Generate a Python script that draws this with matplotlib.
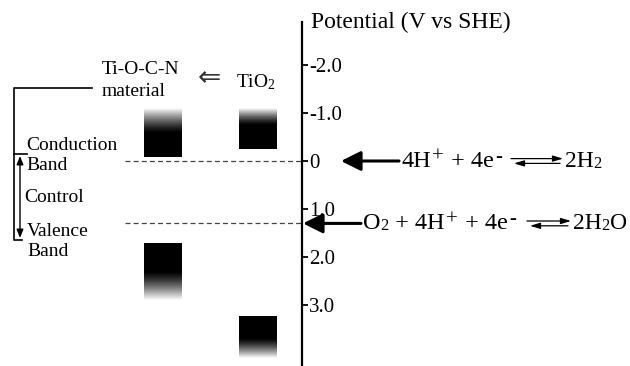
import numpy as np
import matplotlib
matplotlib.use("Agg")
import matplotlib.pyplot as plt

plt.rcParams['font.family'] = ['Liberation Serif', 'DejaVu Sans']
plt.rcParams['mathtext.fontset'] = 'custom'
plt.rcParams['mathtext.rm'] = 'Liberation Serif'
plt.rcParams['mathtext.it'] = 'Liberation Serif:italic'
plt.rcParams['mathtext.bf'] = 'Liberation Serif:bold'

# ---- data (potential, V vs SHE) ----
materials = ["Ti-O-C-N", "TiO2"]
band_x = [163, 258]                 # horizontal placement of band columns
cb_edge = [-0.08, -0.25]            # conduction band edge
cb_solid_end = [-0.58, -0.75]       # end of solid part
cb_fade_end = [-1.10, -1.10]        # gradient fades to white
vb_edge = [1.71, 3.23]              # valence band edge
vb_solid_end = [2.31, 3.69]
vb_fade_end = [2.90, 4.10]
tick_values = [-2.0, -1.0, 0.0, 1.0, 2.0, 3.0]
tick_labels = ["-2.0", "-1.0", "0", "1.0", "2.0", "3.0"]
redox_potentials = [0.0, 1.3]
# equation pieces: (text, kind) with kind n=normal, sup=superscript, sub=subscript
redox_reactants = [
    [("4H", "n"), ("+", "sup"), (" + 4e", "n"), ("-", "sup")],
    [("O", "n"), ("2", "sub"), (" + 4H", "n"), ("+", "sup"), (" + 4e", "n"), ("-", "sup")],
]
redox_products = [
    [("2H", "n"), ("2", "sub")],
    [("2H", "n"), ("2", "sub"), ("O", "n")],
]

W, H = 630, 366
fig = plt.figure(figsize=(W / 100, H / 100), dpi=100)
ax = fig.add_axes([0, 0, 1, 1])
ax.set_xlim(0, W)
v_top = (0 - 161) / 48.0
v_bot = (H - 161) / 48.0
ax.set_ylim(v_bot, v_top)

# potential axis
for s in ['left', 'top', 'bottom']:
    ax.spines[s].set_visible(False)
ax.spines['right'].set_position(('data', 302))
ax.spines['right'].set_bounds(-2.9, v_bot)
ax.spines['right'].set_linewidth(1.6)
ax.yaxis.tick_right()
ax.set_yticks(tick_values)
ax.set_yticklabels(tick_labels, fontsize=15)
ax.tick_params(axis='y', direction='out', length=4, width=1.3, pad=1, colors='black')
ax.set_xticks([])
ax.set_facecolor('none')

# dashed reference lines
for v in redox_potentials:
    ax.plot([125, 302], [v, v], ls=(0, (4, 2.5)), color='#444444', lw=0.9)

bw = 38


def band(x, edge, solid, fade):
    ax.bar(x, solid - edge, bottom=edge, width=bw, color='black', linewidth=0)
    ax.imshow(np.linspace(1, 0, 200)[:, None] ** 1.3, cmap='gray', vmin=0, vmax=1,
              extent=(x - bw / 2, x + bw / 2, solid, fade), aspect='auto',
              interpolation='bilinear', origin='upper', zorder=2)


for i in range(len(materials)):
    band(band_x[i], cb_edge[i], cb_solid_end[i], cb_fade_end[i])
    band(band_x[i], vb_edge[i], vb_solid_end[i], vb_fade_end[i])

ax.set_xlim(0, W)
ax.set_ylim(v_bot, v_top)

# overlay in pixel coordinates for labels
ov = fig.add_axes([0, 0, 1, 1])
ov.set_xlim(0, W)
ov.set_ylim(H, 0)
ov.axis('off')
ov.patch.set_alpha(0)

renderer = fig.canvas.get_renderer()


def draw_seq(x, y_base, parts, size=17.5, small=15, gap=1.5):
    for j, (s, kind) in enumerate(parts):
        if kind == "n":
            t = ov.text(x, y_base, s, fontsize=size, va='baseline', ha='left')
        elif kind == "sup":
            t = ov.text(x, y_base - 5, s, fontsize=small, va='baseline', ha='left')
        else:
            t = ov.text(x, y_base + 1, s, fontsize=small - 3, va='baseline', ha='left')
        bb = t.get_window_extent(renderer)
        nxt = parts[j + 1][1] if j + 1 < len(parts) else "n"
        x += bb.width + (0 if nxt == "sub" or kind == "sub" else gap)
    return x


# redox arrows and equations
arrow_tail = [399, 361]
arrow_tip = [341, 303]
text_x = [401, 363]
eq_x0 = [511, 527]
eq_x1 = [563, 571]
prod_x = [565, 573]
for i, v in enumerate(redox_potentials):
    ax.annotate('', xy=(arrow_tip[i], v), xytext=(arrow_tail[i], v),
                arrowprops=dict(arrowstyle='-|>,head_length=0.6,head_width=0.3',
                                lw=2.2, color='black', shrinkA=0, shrinkB=0,
                                mutation_scale=20))
    d = 0.05
    ax.annotate('', xy=(eq_x1[i], v - d), xytext=(eq_x0[i], v - d),
                arrowprops=dict(arrowstyle='-|>,head_length=0.6,head_width=0.18',
                                lw=0.9, color='black', shrinkA=0, shrinkB=0,
                                mutation_scale=10))
    ax.annotate('', xy=(eq_x0[i] + 3, v + d), xytext=(eq_x1[i] - 3, v + d),
                arrowprops=dict(arrowstyle='-|>,head_length=0.6,head_width=0.18',
                                lw=0.9, color='black', shrinkA=0, shrinkB=0,
                                mutation_scale=10))
    y_pix = H - ax.transData.transform((0, v))[1]
    draw_seq(text_x[i], y_pix + 6, redox_reactants[i])
    draw_seq(prod_x[i], y_pix + 6, redox_products[i], size=17, gap=0.5)

ov.text(311, 22, "Potential (V vs SHE)", fontsize=17, va='center', ha='left')
ov.text(102, 70, "Ti-O-C-N", fontsize=14, va='center', ha='left')
ov.text(102, 91, "material", fontsize=14, va='center', ha='left')
ov.text(209, 78, "\u21d0", fontsize=20, va='center', ha='center',
        family=['DejaVu Sans'], color='#333333')
ov.text(236, 82, r"TiO$_{2}$", fontsize=14, va='center', ha='left')
ov.text(26, 146, "Conduction", fontsize=14, va='center', ha='left')
ov.text(26, 166, "Band", fontsize=14, va='center', ha='left')
ov.text(24, 197, "Control", fontsize=14, va='center', ha='left')
ov.text(27, 231, "Valence", fontsize=14, va='center', ha='left')
ov.text(27, 251, "Band", fontsize=14, va='center', ha='left')

# bracket
ov.plot([92, 14, 14, 22], [88, 88, 240, 240], color='black', lw=1.2)
ov.plot([14, 27], [154, 154], color='black', lw=1.2)
ov.annotate('', xy=(20, 156), xytext=(20, 238),
            arrowprops=dict(arrowstyle='<|-|>,head_length=0.5,head_width=0.2',
                            lw=1.0, color='black', shrinkA=0, shrinkB=0,
                            mutation_scale=10))

fig.savefig('out.png', dpi=100)
